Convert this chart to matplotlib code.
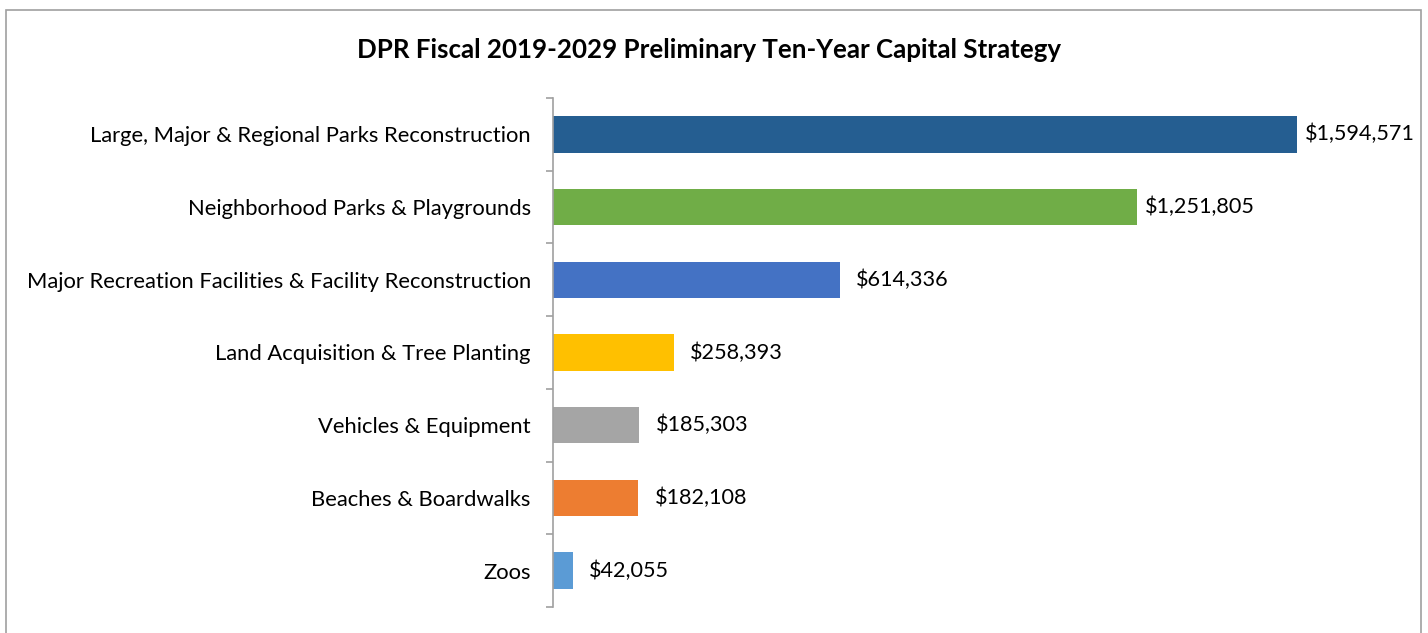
import matplotlib
matplotlib.use("Agg")
import matplotlib.pyplot as plt
from matplotlib.patches import Rectangle
import numpy as np

categories = [
    "Large, Major & Regional Parks Reconstruction",
    "Neighborhood Parks & Playgrounds",
    "Major Recreation Facilities & Facility Reconstruction",
    "Land Acquisition & Tree Planting",
    "Vehicles & Equipment",
    "Beaches & Boardwalks",
    "Zoos",
]
values = [1594571, 1251805, 614336, 258393, 185303, 182108, 42055]
colors = ["#255E91", "#70AD47", "#4472C4", "#FFC000", "#A5A5A5", "#ED7D31", "#5B9BD5"]
title = "DPR Fiscal 2019-2029 Preliminary Ten-Year Capital Strategy"

plt.rcParams['font.family'] = ['Lato', 'DejaVu Sans']
W, H = 1428, 633
fig = plt.figure(figsize=(W / 100, H / 100), dpi=100)

left = 553 / W
bottom = (H - 607) / H
height = (607 - 98) / H
xmax = 1800000
px_per_unit = 744 / 1594571
width = xmax * px_per_unit / W
ax = fig.add_axes([left, bottom, width, height])

n = len(categories)
y = np.arange(n)
ax.barh(y, values, height=0.5, color=colors)
ax.set_ylim(n - 0.5, -0.5)
ax.set_xlim(0, xmax)

for yi, v in zip(y, values):
    off = 6 if v > 1000000 else 12
    ax.annotate(f"${v:,}", (v, yi), xytext=(off, 0), textcoords="offset points",
                va="center", ha="left", fontsize=15.6, color="#000000")

ax.set_yticks(y)
ax.set_yticklabels(categories, fontsize=15.8)
ax.tick_params(axis="y", which="major", length=0, pad=16)
ax.set_yticks(np.arange(-0.5, n, 1), minor=True)
ax.tick_params(axis="y", which="minor", length=5, width=1.2, color="#A0A0A0", direction="out")
ax.set_xticks([])
for s in ["top", "right", "bottom"]:
    ax.spines[s].set_visible(False)
ax.spines["left"].set_color("#A0A0A0")
ax.spines["left"].set_linewidth(1.2)

fig.text(709 / W, 1 - 50 / H, title, ha="center", va="center",
         fontsize=18.6, fontweight="bold")

border = Rectangle((6 / W, -0.1), (1421 - 6) / W, 1 - 10 / H + 0.1,
                   transform=fig.transFigure, fill=False, edgecolor="#A0A0A0",
                   linewidth=1.2)
fig.patches.append(border)

fig.savefig("out.png", dpi=100)
